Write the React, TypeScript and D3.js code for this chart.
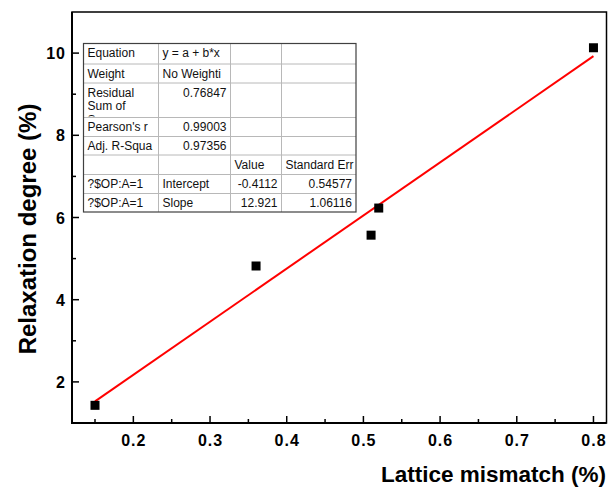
import React, { useEffect, useRef } from 'react'
import * as d3 from 'd3'

// data
const mismatch = [0.15, 0.36, 0.51, 0.52, 0.80]
const relaxation = [1.43, 4.82, 5.57, 6.23, 10.13]
const xTicks = [0.2, 0.3, 0.4, 0.5, 0.6, 0.7, 0.8]
const yTicks = [2, 4, 6, 8, 10]
const fitIntercept = -0.4112
const fitSlope = 12.921

// Origin fit report table
const tableCol0 = ['Equation', 'Weight', 'Residual\nSum of\nSquares', "Pearson's r", 'Adj. R-Squa', '', '?$OP:A=1', '?$OP:A=1']
const tableCol1 = ['y = a + b*x', 'No Weighti', '0.76847', '0.99003', '0.97356', '', 'Intercept', 'Slope']
const tableCol2 = ['', '', '', '', '', 'Value', '-0.4112', '12.921']
const tableCol3 = ['', '', '', '', '', 'Standard Err', '0.54577', '1.06116']

const W = 608, H = 488
const margin = { top: 12, right: 1.5, bottom: 65, left: 72 }
const font = "'Liberation Sans', Arial, sans-serif"

const drawChart = (node: SVGSVGElement) => {
    const svg = d3.select(node)
    svg.selectAll('*').remove()

    const x = d3.scaleLinear().domain([0.12, 0.817]).range([margin.left, W - margin.right])
    const y = d3.scaleLinear().domain([1, 11]).range([H - margin.bottom, margin.top])
    const x0 = margin.left, x1 = W - margin.right
    const y0 = H - margin.bottom, y1 = margin.top

    // frame
    svg.append('rect')
        .attr('x', x0).attr('y', y1)
        .attr('width', x1 - x0).attr('height', y0 - y1)
        .attr('fill', 'none').attr('stroke', '#000').attr('stroke-width', 1.5)

    // x ticks (inward), minor every 0.05
    const xMinor = d3.range(0.15, 0.82, 0.1)
    svg.append('g').selectAll('line.xmaj').data(xTicks).enter().append('line')
        .attr('x1', d => x(d)).attr('x2', d => x(d))
        .attr('y1', y0).attr('y2', y0 - 7)
        .attr('stroke', '#000').attr('stroke-width', 1.5)
    svg.append('g').selectAll('line.xmin').data(xMinor).enter().append('line')
        .attr('x1', d => x(d)).attr('x2', d => x(d))
        .attr('y1', y0).attr('y2', y0 - 4)
        .attr('stroke', '#000').attr('stroke-width', 1.5)
    svg.append('g').selectAll('text').data(xTicks).enter().append('text')
        .attr('x', d => x(d) + 0.5).attr('y', y0 + 23)
        .attr('text-anchor', 'middle')
        .attr('font-family', font).attr('font-weight', 'bold').attr('font-size', 16)
        .attr('letter-spacing', 1)
        .text(d => d.toFixed(1))

    // y ticks (inward), minor at odd values
    const yMinor = [3, 5, 7, 9]
    svg.append('g').selectAll('line').data(yTicks).enter().append('line')
        .attr('x1', x0).attr('x2', x0 + 7)
        .attr('y1', d => y(d)).attr('y2', d => y(d))
        .attr('stroke', '#000').attr('stroke-width', 1.5)
    svg.append('g').selectAll('line').data(yMinor).enter().append('line')
        .attr('x1', x0).attr('x2', x0 + 4)
        .attr('y1', d => y(d)).attr('y2', d => y(d))
        .attr('stroke', '#000').attr('stroke-width', 1.5)
    svg.append('g').selectAll('text').data(yTicks).enter().append('text')
        .attr('x', x0 - 6).attr('y', d => y(d) + 6)
        .attr('text-anchor', 'end')
        .attr('font-family', font).attr('font-weight', 'bold').attr('font-size', 16)
        .attr('letter-spacing', 1)
        .text(d => d)

    // heavier left & bottom axis lines
    svg.append('line').attr('x1', x0).attr('x2', x0).attr('y1', y1).attr('y2', y0 + 1)
        .attr('stroke', '#000').attr('stroke-width', 2)
    svg.append('line').attr('x1', x0 - 1).attr('x2', x1).attr('y1', y0).attr('y2', y0)
        .attr('stroke', '#000').attr('stroke-width', 2)

    // axis titles
    svg.append('text')
        .attr('x', 606).attr('y', 482)
        .attr('text-anchor', 'end')
        .attr('font-family', font).attr('font-weight', 'bold').attr('font-size', 22.5)
        .text('Lattice mismatch (%)')
    svg.append('text')
        .attr('transform', `translate(35.5, 229) rotate(-90)`)
        .attr('text-anchor', 'middle')
        .attr('font-family', font).attr('font-weight', 'bold').attr('font-size', 24)
        .text('Relaxation degree (%)')

    // linear fit
    const xExt = d3.extent(mismatch) as [number, number]
    const fitLine = d3.line<number>().x(d => x(d)).y(d => y(fitIntercept + fitSlope * d))
    svg.append('path')
        .attr('d', fitLine(xExt))
        .attr('fill', 'none').attr('stroke', '#ff0000').attr('stroke-width', 2)

    // points
    const pts = mismatch.map((m, i) => ({ m, r: relaxation[i] }))
    svg.append('g').selectAll('rect').data(pts).enter().append('rect')
        .attr('x', d => x(d.m) - 4.5).attr('y', d => y(d.r) - 4.5)
        .attr('width', 9).attr('height', 9)
        .attr('fill', '#000')

    // fit report table
    const colX = [83.5, 158.5, 230.5, 281.5, 356]
    const rowY = [43.5, 64, 83, 117.5, 136.5, 155, 174.5, 193.5, 212]
    const table = svg.append('g')
    table.append('rect')
        .attr('x', colX[0]).attr('y', rowY[0])
        .attr('width', colX[4] - colX[0]).attr('height', rowY[8] - rowY[0])
        .attr('fill', '#fff')
    colX.slice(1, 4).forEach(cx => {
        table.append('line').attr('x1', cx).attr('x2', cx).attr('y1', rowY[0]).attr('y2', rowY[8])
            .attr('stroke', '#b8b8b8').attr('stroke-width', 1)
    })
    rowY.slice(1, 8).forEach(ry => {
        table.append('line').attr('x1', colX[0]).attr('x2', colX[4]).attr('y1', ry).attr('y2', ry)
            .attr('stroke', '#b8b8b8').attr('stroke-width', 1)
    })
    table.append('rect')
        .attr('x', colX[0]).attr('y', rowY[0])
        .attr('width', colX[4] - colX[0]).attr('height', rowY[8] - rowY[0])
        .attr('fill', 'none').attr('stroke', '#404040').attr('stroke-width', 1.2)

    const cols = [tableCol0, tableCol1, tableCol2, tableCol3]
    const defs = svg.append('defs')
    cols.forEach((col, ci) => {
        col.forEach((txt, ri) => {
            if (!txt) return
            const clipId = `cell-${ci}-${ri}`
            defs.append('clipPath').attr('id', clipId).append('rect')
                .attr('x', colX[ci] + 1).attr('y', rowY[ri] + 1)
                .attr('width', colX[ci + 1] - colX[ci] - 2).attr('height', rowY[ri + 1] - rowY[ri] - 2)
            const numeric = !isNaN(parseFloat(txt)) && isFinite(+txt)
            const t = table.append('text')
                .attr('clip-path', `url(#${clipId})`)
                .attr('font-family', font).attr('font-size', 12).attr('fill', '#111')
                .attr('text-anchor', numeric ? 'end' : 'start')
            const tx = numeric ? colX[ci + 1] - 4 : colX[ci] + 4
            txt.split('\n').forEach((line, li) => {
                t.append('tspan')
                    .attr('x', tx)
                    .attr('y', rowY[ri] + 13.5 + li * 13.5)
                    .text(line)
            })
        })
    })
}

export default function App() {
    const ref = useRef<SVGSVGElement>(null)
    useEffect(() => {
        if (ref.current) drawChart(ref.current)
    }, [])
    return (
        <svg ref={ref} width={W} height={H}
            style={{ position: 'absolute', left: 0, top: 0, background: '#fff' }} />
    )
}
